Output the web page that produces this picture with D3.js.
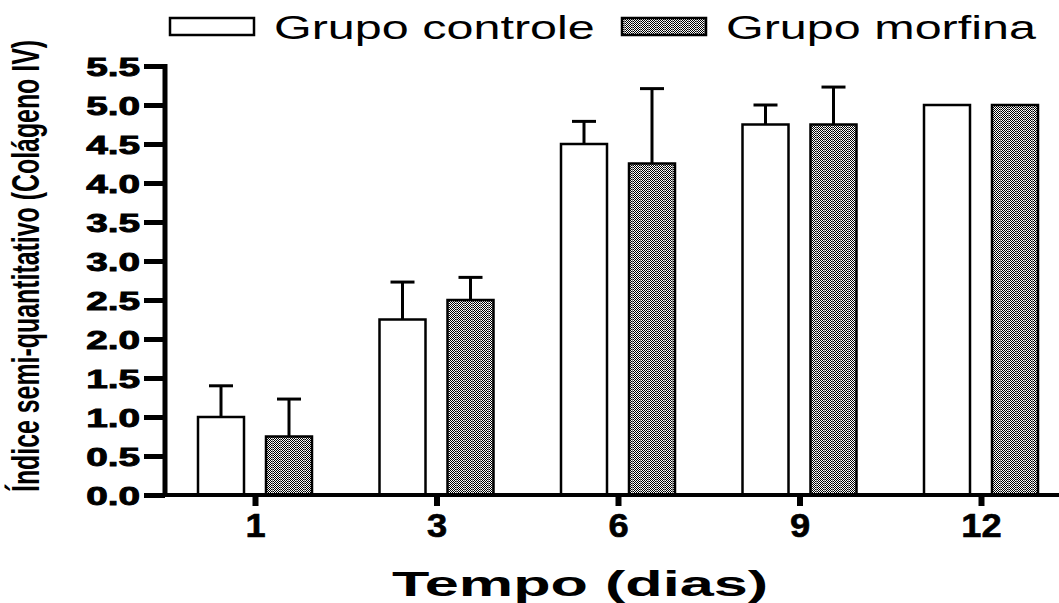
<!DOCTYPE html>
<html><head><meta charset="utf-8">
<script src="https://cdn.jsdelivr.net/npm/d3@7"></script>
<style>html,body{margin:0;padding:0;background:#fff;}svg{display:block;}</style>
</head><body>
<svg id="c" width="1059" height="603"></svg>
<script>
const categories = ["1", "3", "6", "9", "12"];
const seriesNames = ["Grupo controle", "Grupo morfina"];
const controleMean = [1.0, 2.25, 4.5, 4.75, 5.0];
const controleErr  = [0.40, 0.48, 0.29, 0.25, 0.0];
const morfinaMean  = [0.75, 2.5, 4.25, 4.75, 5.0];
const morfinaErr   = [0.48, 0.29, 0.96, 0.48, 0.0];
const yTicks = [0, 0.5, 1, 1.5, 2, 2.5, 3, 3.5, 4, 4.5, 5, 5.5];
const yTitle = "Índice semi-quantitativo (Colágeno IV)";
const xTitle = "Tempo (dias)";

const svg = d3.select("#c");
const FONT = "'Liberation Sans', Arial, sans-serif";

// patterns
const defs = svg.append("defs");
const pat = defs.append("pattern").attr("id","chk").attr("patternUnits","userSpaceOnUse")
  .attr("width",8).attr("height",2);
pat.append("rect").attr("width",8).attr("height",2).attr("fill","#fff");
for (let i=0;i<8;i+=2){
  pat.append("rect").attr("x",i).attr("y",0).attr("width",1).attr("height",1).attr("fill","#000");
  pat.append("rect").attr("x",i+1).attr("y",1).attr("width",1).attr("height",1).attr("fill","#000");
}
pat.append("rect").attr("x",0).attr("y",0).attr("width",1).attr("height",2).attr("fill","#888");

const series = [
  {name: seriesNames[0], mean: controleMean, err: controleErr, fill: "#fff"},
  {name: seriesNames[1], mean: morfinaMean, err: morfinaErr, fill: "url(#chk)"}
];

const y = d3.scaleLinear().domain([0, 5.5]).range([495, 66]);
const x0 = d3.scalePoint().domain(categories).range([255, 981]);
const x1 = d3.scaleBand().domain(seriesNames).range([-57, 57]).paddingInner(0.3235).paddingOuter(0);

// bars
series.forEach(s => {
  const g = svg.append("g");
  g.selectAll("rect").data(categories).join("rect")
    .attr("x", (c) => x0(c) + x1(s.name))
    .attr("y", (c,i) => y(s.mean[i]))
    .attr("width", x1.bandwidth())
    .attr("height", (c,i) => y(0) - y(s.mean[i]))
    .attr("fill", s.fill).attr("stroke", "#000").attr("stroke-width", 2.5);
  categories.forEach((c,i) => {
    if (s.err[i] <= 0) return;
    const cx = x0(c) + x1(s.name) + x1.bandwidth()/2;
    g.append("line").attr("x1",cx).attr("x2",cx).attr("y1",y(s.mean[i])).attr("y2",y(s.mean[i]+s.err[i]))
      .attr("stroke","#000").attr("stroke-width",3);
    g.append("line").attr("x1",cx-12).attr("x2",cx+12).attr("y1",y(s.mean[i]+s.err[i])).attr("y2",y(s.mean[i]+s.err[i]))
      .attr("stroke","#000").attr("stroke-width",3);
  });
});

// y axis
const yAxisX = 165;
const yAxis = d3.axisLeft(y).tickValues(yTicks).tickSize(21).tickFormat(d3.format(".1f")).tickPadding(0);
const ya = svg.append("g").attr("transform", `translate(${yAxisX},0)`).call(yAxis);
ya.select(".domain").remove();
ya.selectAll(".tick line").attr("stroke","#000").attr("stroke-width",5);
ya.selectAll(".tick text").remove();
ya.selectAll(".tick").append("text")
  .attr("transform","translate(-25,0) scale(1.55,1)")
  .attr("dy","0.37em").attr("text-anchor","end")
  .attr("font-family",FONT).attr("font-weight","bold").attr("font-size",25).attr("fill","#000")
  .attr("stroke","#000").attr("stroke-width",0.9)
  .text(d => d3.format(".1f")(d));
svg.append("line").attr("x1",yAxisX).attr("x2",yAxisX).attr("y1",y(0)+2).attr("y2",y(5.5)-2)
  .attr("stroke","#000").attr("stroke-width",5);

// x axis
const xAxis = d3.axisBottom(x0).tickSize(11).tickPadding(0);
const xa = svg.append("g").attr("transform", `translate(0,${y(0)})`).call(xAxis);
xa.select(".domain").remove();
xa.selectAll(".tick line").attr("stroke","#000").attr("stroke-width",6);
xa.selectAll(".tick text").remove();
xa.selectAll(".tick").append("text")
  .attr("transform","translate(0,42) scale(1.1,1)")
  .attr("text-anchor","middle")
  .attr("font-family",FONT).attr("font-weight","bold").attr("font-size",33).attr("fill","#000")
  .attr("stroke","#000").attr("stroke-width",0.6)
  .text(d => d);
svg.append("line").attr("x1",yAxisX).attr("x2",1059).attr("y1",y(0)).attr("y2",y(0))
  .attr("stroke","#000").attr("stroke-width",4);

// titles
svg.append("text").attr("transform","translate(39,266) rotate(-90) scale(0.655,1)")
  .attr("text-anchor","middle").attr("font-family",FONT).attr("font-weight","bold")
  .attr("font-size",38).attr("fill","#000").text(yTitle);
svg.append("text").attr("transform","translate(580,596) scale(1.7,1)")
  .attr("text-anchor","middle").attr("font-family",FONT).attr("font-weight","bold")
  .attr("font-size",36).attr("fill","#000").text(xTitle);

// legend
const legendX = [170, 622];
series.forEach((s,i) => {
  svg.append("rect").attr("x",legendX[i]).attr("y",18).attr("width",84).attr("height",17)
    .attr("fill",s.fill).attr("stroke","#000").attr("stroke-width",2.5);
  svg.append("text").attr("transform",`translate(${legendX[i]+104},39) scale(1.47,1)`)
    .attr("font-family",FONT).attr("font-size",33).attr("fill","#000").text(s.name);
});
</script>
</body></html>
